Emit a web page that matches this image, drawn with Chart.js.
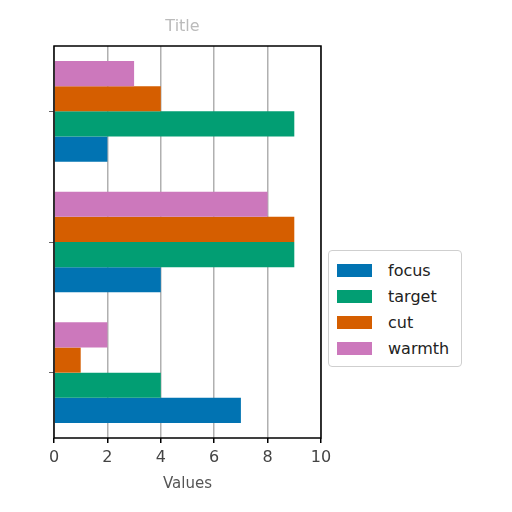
<!DOCTYPE html>
<html>
<head>
<meta charset="utf-8">
<script src="https://cdn.jsdelivr.net/npm/chart.js@4.4.1/dist/chart.umd.min.js"></script>
<style>
  body { margin: 0; background: #fff; font-family: "DejaVu Sans", sans-serif; }
  #wrap { position: relative; width: 512px; height: 512px; }
  #legend {
    position: absolute; left: 328px; top: 250px; width: 134px; height: 117px;
    border: 1px solid #cfcfcf; border-radius: 4px; background: #fff;
    box-sizing: border-box; padding: 6px 0 0 8px;
  }
  .item { display: flex; align-items: center; height: 26px; font-size: 16px; color: #222; }
  .swatch { width: 35px; height: 13px; margin-right: 16px; }
</style>
</head>
<body>
<div id="wrap">
  <canvas id="myChart" width="512" height="512"></canvas>
  <div id="legend"></div>
</div>
<script>
// groups listed top to bottom
const categories = ["Group 1", "Group 2", "Group 3"];
const seriesNames = ["focus", "target", "cut", "warmth"];
const focus = [2, 4, 7];
const target = [9, 9, 4];
const cut = [4, 9, 1];
const warmth = [3, 8, 2];
const xTicks = [0, 2, 4, 6, 8, 10];
const colors = ["#0173b2", "#029e73", "#d55e00", "#cc78bc"];
const titleText = "Title";

const seriesValues = [focus, target, cut, warmth];

//frame and title
const framePlugin = {
  id: "frame",
  afterDraw(chart) {
    const { ctx, chartArea } = chart;
    ctx.save();
    ctx.strokeStyle = "#000";
    ctx.lineWidth = 1.5;
    ctx.strokeRect(chartArea.left, chartArea.top, chartArea.right - chartArea.left, chartArea.bottom - chartArea.top);
    ctx.fillStyle = "#bbb";
    ctx.font = "16px 'DejaVu Sans'";
    ctx.textAlign = "center";
    ctx.textBaseline = "middle";
    ctx.fillText(titleText, (chartArea.left + chartArea.right) / 2 - 5, 27);
    ctx.restore();
  },
};

// first series sits at the bottom of each group, so datasets go in reverse
const datasets = seriesNames
  .map((name, i) => ({
    label: name,
    data: seriesValues[i],
    backgroundColor: colors[i],
    borderWidth: 0,
    categoryPercentage: 0.77,
    barPercentage: 1,
  }))
  .reverse();

const ctx = document.getElementById("myChart").getContext("2d");
const myChart = new Chart(ctx, {
  type: "bar",
  data: {
    labels: categories,
    datasets: datasets,
  },
  options: {
    indexAxis: "y",
    responsive: false,
    animation: false,
    layout: { padding: { top: 46, right: 191, bottom: 19, left: 0 } },
    plugins: {
      legend: { display: false },
      tooltip: { enabled: false },
    },
    scales: {
      x: {
        min: 0,
        max: 10,
        afterBuildTicks: (axis) => {
          axis.ticks = xTicks.map((v) => ({ value: v }));
        },
        afterFit: (axis) => {
          axis.height = 55;
        },
        grid: {
          color: "#b0b0b0",
          lineWidth: 1.5,
          tickColor: "#000",
          tickLength: 5,
        },
        border: { display: false },
        ticks: {
          color: "#444",
          font: { family: "DejaVu Sans", size: 16 },
          padding: 5,
          maxRotation: 0,
        },
        title: {
          display: true,
          text: "Values",
          color: "#555",
          font: { family: "DejaVu Sans", size: 15 },
          padding: { top: 2, bottom: 0 },
        },
      },
      y: {
        afterFit: (axis) => {
          axis.width = 54;
        },
        grid: {
          offset: false,
          drawOnChartArea: false,
          tickColor: "#666",
          tickLength: 5,
        },
        border: { display: false },
        ticks: {
          callback: () => "",
          padding: 0,
        },
      },
    },
  },
  plugins: [framePlugin],
});

//legend, in series order
const legendBox = document.getElementById("legend");
seriesNames.forEach((name, i) => {
  const row = document.createElement("div");
  row.className = "item";
  row.innerHTML = `<span class="swatch" style="background:${colors[i]}"></span>${name}`;
  legendBox.appendChild(row);
});
</script>
</body>
</html>
